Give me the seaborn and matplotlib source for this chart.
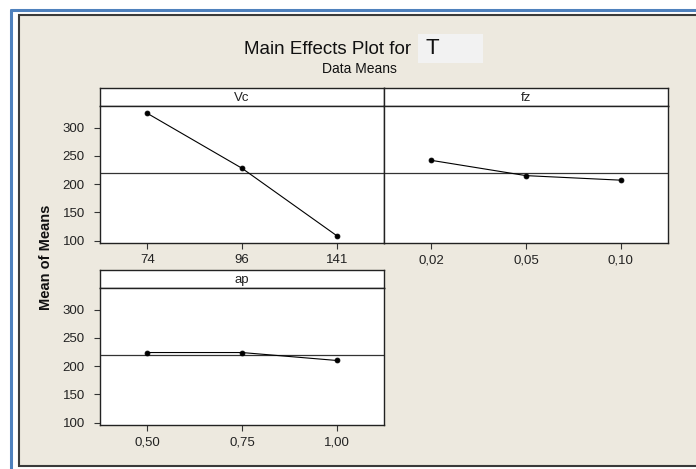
import matplotlib
matplotlib.use("Agg")
import matplotlib.pyplot as plt
from matplotlib.patches import Rectangle
from matplotlib.lines import Line2D
import seaborn as sns
import pandas as pd

# ---- data ----
vc_levels = ["74", "96", "141"]
vc_means = [325, 228, 109]
fz_levels = ["0,02", "0,05", "0,10"]
fz_means = [242, 215, 207]
ap_levels = ["0,50", "0,75", "1,00"]
ap_means = [224, 224, 210]
grand_mean = 220
y_ticks = [100, 150, 200, 250, 300]
title_text = "Main Effects Plot for"
title_var = "T"
subtitle_text = "Data Means"
y_label = "Mean of Means"

sns.set_theme(style="white")
plt.rcParams['font.family'] = ['Liberation Sans', 'DejaVu Sans']

W, H = 696, 469
fig = plt.figure(figsize=(W / 100, H / 100), dpi=100)
fig.patch.set_facecolor("white")

def fx(x):
    return x / W

def fy(y):
    return 1 - y / H

# outer frames
fig.add_artist(Rectangle((fx(19), fy(466)), fx(700 - 19), fy(15) - fy(466),
                         transform=fig.transFigure, facecolor="#EDE9DF",
                         edgecolor="#3a3a3a", linewidth=1.5, zorder=0))
blue = "#4F81BD"
fig.add_artist(Line2D([fx(11), fx(11)], [fy(10), 0], transform=fig.transFigure,
                      color=blue, linewidth=2.2))
fig.add_artist(Line2D([fx(11), 1], [fy(10), fy(10)], transform=fig.transFigure,
                      color=blue, linewidth=2.2))

# title
fig.text(fx(411), fy(49), title_text, ha="right", va="center", fontsize=13.5,
         color="#111111")
fig.add_artist(Rectangle((fx(418), fy(63)), fx(65), fy(34) - fy(63),
                         transform=fig.transFigure, facecolor="#F2F2F2",
                         edgecolor="none", zorder=1))
fig.text(fx(425), fy(48), title_var, ha="left", va="center", fontsize=16,
         color="#111111", zorder=2)
fig.text(fx(359), fy(69), subtitle_text, ha="center", va="center", fontsize=10,
         color="#111111")

fig.text(fx(46), fy(257), y_label, ha="center", va="center", rotation=90,
         fontsize=10.5, fontweight="bold", color="#111111")

panels = [
    ("Vc", vc_levels, vc_means, 100, 88, True),
    ("fz", fz_levels, fz_means, 384, 88, False),
    ("ap", ap_levels, ap_means, 100, 270, True),
]

pw = 284
strip_h = 18
plot_h = 137

for name, levels, means, left, top, show_y in panels:
    # strip
    sax = fig.add_axes([fx(left), fy(top + strip_h), fx(pw), fy(top) - fy(top + strip_h)])
    sax.set_facecolor("white")
    sax.set_xticks([])
    sax.set_yticks([])
    for s in sax.spines.values():
        s.set_color("#222222")
        s.set_linewidth(1.0)
    sax.text(0.5, 0.45, name, ha="center", va="center", fontsize=9.5,
             color="#222222", transform=sax.transAxes)

    ax = fig.add_axes([fx(left), fy(top + strip_h + plot_h), fx(pw),
                       fy(top + strip_h) - fy(top + strip_h + plot_h)])
    ax.set_facecolor("white")
    df = pd.DataFrame({"level": levels, "mean": means})
    ax.axhline(grand_mean, color="#333333", linewidth=0.9, zorder=1)
    sns.pointplot(data=df, x="level", y="mean", order=levels, color="black",
                  markers="o", markersize=3.5, linewidth=0.8, ax=ax, zorder=3)
    ax.set_xlim(-0.5, len(levels) - 0.5)
    ax.set_ylim(96, 338)
    ax.set_xlabel("")
    ax.set_ylabel("")
    ax.set_yticks(y_ticks)
    ax.tick_params(axis="both", direction="out", length=4, width=0.8,
                   color="#333333", labelsize=9.5, labelcolor="#222222")
    ax.tick_params(axis="x", bottom=True, pad=4)
    if not show_y:
        ax.tick_params(axis="y", left=False, labelleft=False)
    else:
        ax.tick_params(axis="y", left=True, pad=7)
    for s in ax.spines.values():
        s.set_color("#222222")
        s.set_linewidth(1.0)
        s.set_visible(True)

fig.savefig("out.png", dpi=100, facecolor=fig.get_facecolor())
